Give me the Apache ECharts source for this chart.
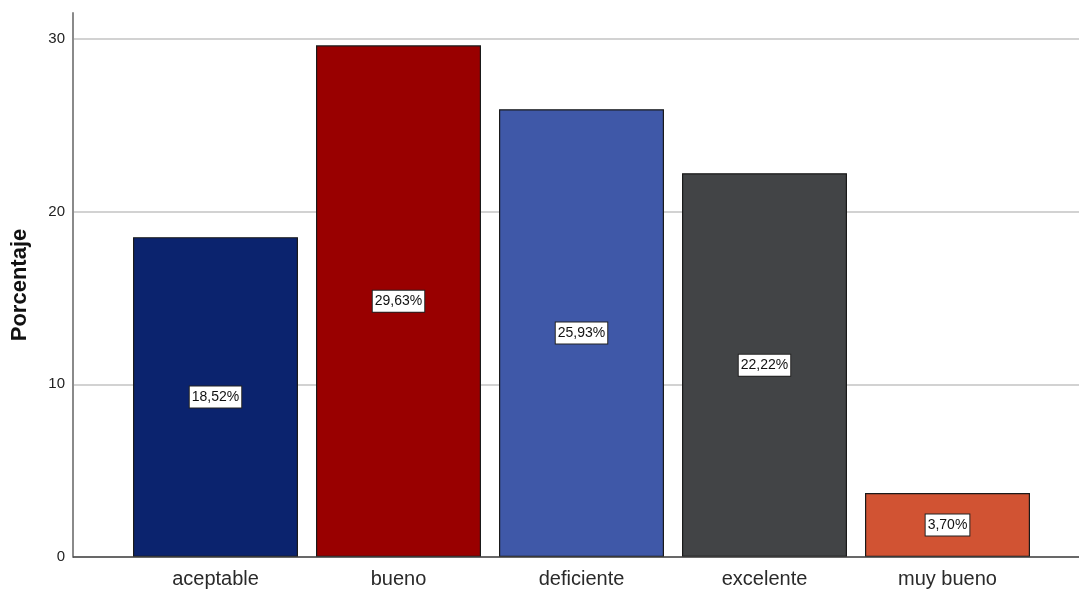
<!DOCTYPE html>
<html>
<head>
<meta charset="utf-8">
<script src="https://cdn.jsdelivr.net/npm/echarts@6/dist/echarts.min.js"></script>
<style>html,body{margin:0;padding:0;background:#fff;}#c{width:1079px;height:591px;}</style>
</head>
<body>
<div id="c"></div>
<script>
var categories = ['aceptable', 'bueno', 'deficiente', 'excelente', 'muy bueno'];
var values = [18.52, 29.63, 25.93, 22.22, 3.70];
var barColors = ['#0b236e', '#990000', '#3f58a8', '#424446', '#d15333'];
var yTicks = [0, 10, 20, 30];

var chart = echarts.init(document.getElementById('c'));
var yMax = 31.5;
var font = 'Liberation Sans, Arial, sans-serif';
chart.setOption({
  animation: false,
  grid: [
    { left: 73, right: 0, top: 13, bottom: 34 },
    { left: 124, width: 915, top: 13, bottom: 34 }
  ],
  xAxis: [
    { gridIndex: 0, type: 'category', data: [''], show: false },
    { gridIndex: 1, type: 'category', data: categories,
      axisLine: { show: false }, axisTick: { show: false },
      axisLabel: { color: '#2a2a2a', fontSize: 20, fontFamily: font, margin: 12 } }
  ],
  yAxis: [
    { gridIndex: 0, type: 'value', min: 0, max: yMax, interval: 10,
      name: 'Porcentaje', nameLocation: 'middle', nameGap: 42, nameRotate: 90,
      nameTextStyle: { fontSize: 22, fontWeight: 'bold', color: '#111', fontFamily: font },
      axisLine: { show: true, lineStyle: { color: '#8a8a8a', width: 2 } },
      axisTick: { show: false },
      axisLabel: { color: '#222', fontSize: 15, margin: 8, fontFamily: font,
        formatter: function (v) { return yTicks.indexOf(v) >= 0 ? String(v) : ''; } },
      splitLine: { show: true, showMaxLine: false, lineStyle: { color: '#d2d2d2', width: 2 } } },
    { gridIndex: 1, type: 'value', min: 0, max: yMax, interval: 10, show: false, splitLine: { show: false } }
  ],
  series: [
    { type: 'line', xAxisIndex: 0, yAxisIndex: 0, data: [],
      markLine: { silent: true, symbol: 'none', label: { show: false },
        lineStyle: { color: '#444', width: 1.5, type: 'solid' }, data: [{ yAxis: 0 }] } },
    { type: 'bar', xAxisIndex: 1, yAxisIndex: 1, barWidth: 165,
      data: values.map(function (v, i) {
        return { value: v, itemStyle: { color: barColors[i], borderColor: '#1a1a1a', borderWidth: 1.2 } };
      }),
      label: { show: true, position: 'inside', color: '#111', fontSize: 14,
        fontFamily: font,
        backgroundColor: '#fff', borderColor: '#222', borderWidth: 1, padding: [4, 2, 3, 2],
        formatter: function (p) { return p.value.toFixed(2).replace('.', ',') + '%'; } } }
  ]
});
</script>
</body>
</html>
